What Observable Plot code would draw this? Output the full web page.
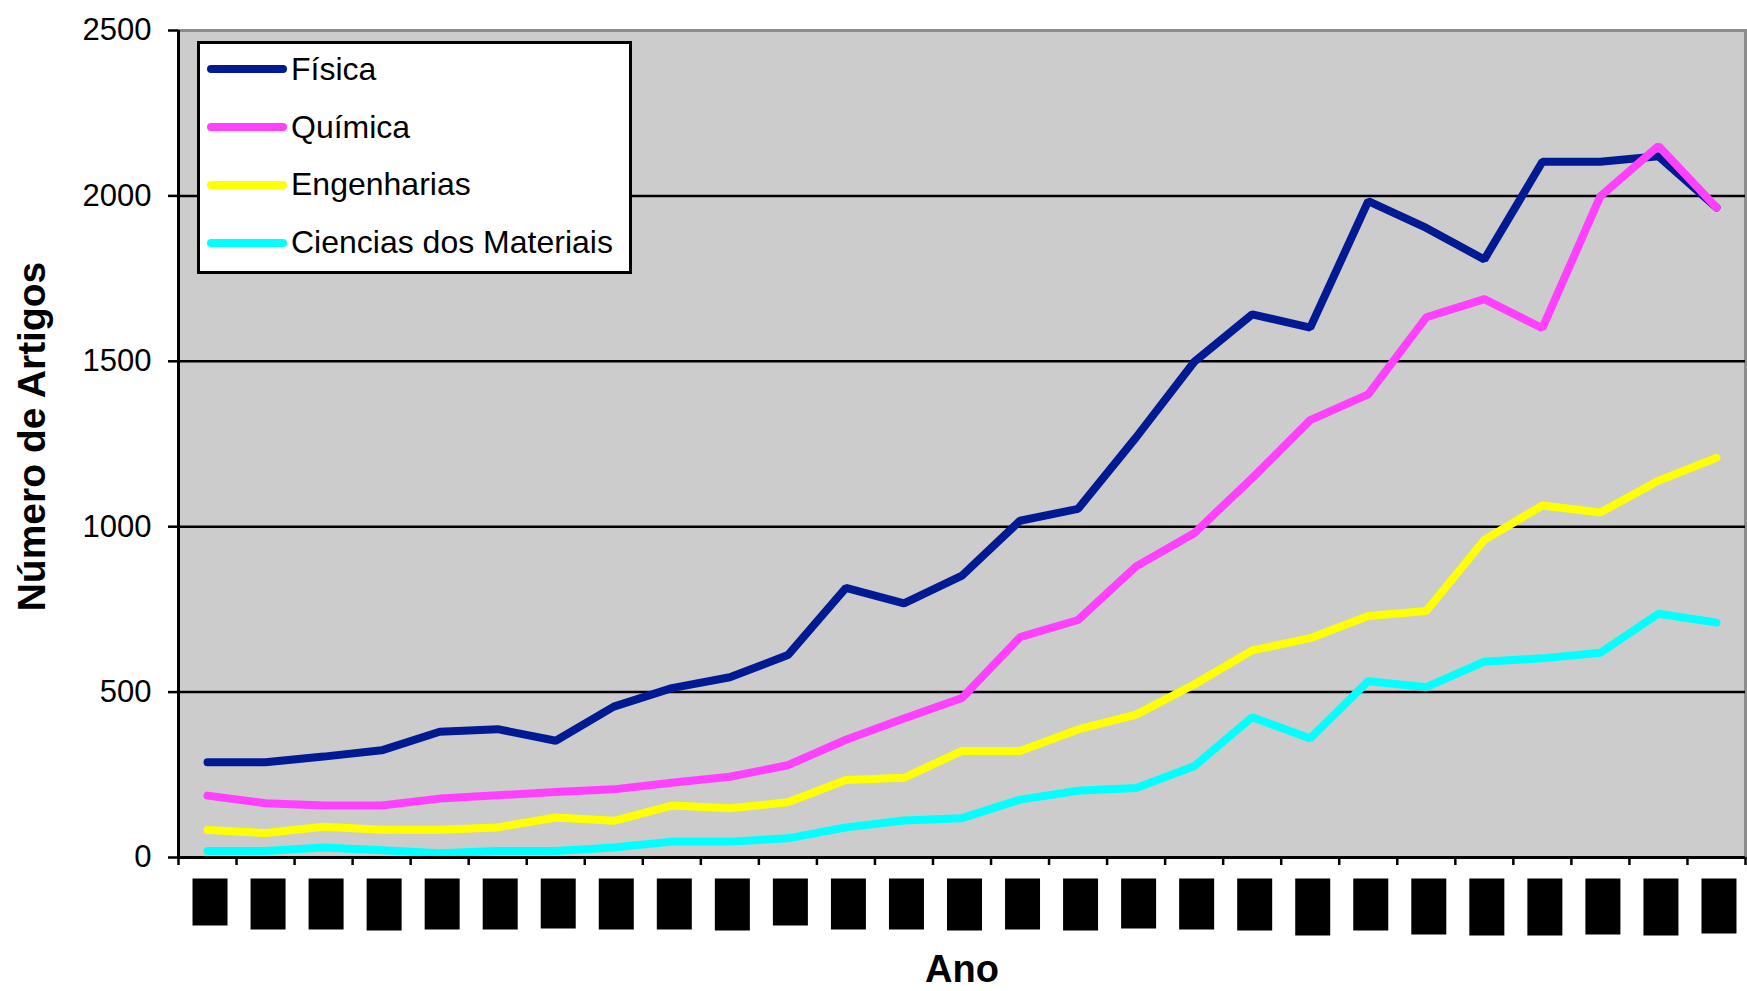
<!DOCTYPE html>
<html>
<head>
<meta charset="utf-8">
<script src="https://cdn.jsdelivr.net/npm/d3@7"></script>
<script src="https://cdn.jsdelivr.net/npm/@observablehq/plot@0.6"></script>
<style>
html, body { margin: 0; padding: 0; background: #ffffff; }
#wrap { position: relative; width: 1747px; height: 991px; font-family: "Liberation Sans", Arial, sans-serif; }
#wrap svg { position: absolute; left: 0; top: 0; }
#legend { position: absolute; left: 197px; top: 41px; width: 435px; height: 233px; border: 3px solid #000; background: #fff; box-sizing: border-box; }
.row { position: absolute; left: 0; height: 58px; display: flex; align-items: center; white-space: nowrap; }
.sw { width: 80px; height: 8px; border-radius: 4px; margin-left: 7px; margin-right: 4px; }
.lab { font-size: 32px; color: #000; }
</style>
</head>
<body>
<div id="wrap"></div>
<script>
// ---- data ----
const years = [1981, 1982, 1983, 1984, 1985, 1986, 1987, 1988, 1989, 1990, 1991, 1992, 1993, 1994,
               1995, 1996, 1997, 1998, 1999, 2000, 2001, 2002, 2003, 2004, 2005, 2006, 2007];
const seriesNames = ["Física", "Química", "Engenharias", "Ciencias dos Materiais"];
const seriesColors = ["#001a94", "#ff40ff", "#ffff00", "#00ffff"];
const fisica = [288, 288, 305, 324, 380, 388, 353, 456, 512, 545, 612, 815, 768, 852,
                1018, 1054, 1270, 1498, 1642, 1602, 1984, 1903, 1808, 2103, 2103, 2120, 1965];
const quimica = [187, 164, 157, 157, 178, 188, 198, 206, 226, 244, 279, 356, 420, 482,
                 666, 718, 880, 980, 1147, 1322, 1400, 1633, 1688, 1600, 1999, 2151, 1965];
const engenharias = [83, 74, 93, 84, 84, 91, 121, 111, 157, 149, 167, 234, 241, 322,
                     322, 387, 432, 523, 626, 663, 730, 745, 960, 1064, 1043, 1139, 1208];
const materiais = [20, 20, 30, 22, 13, 20, 20, 30, 48, 48, 58, 91, 112, 119,
                   175, 202, 210, 276, 424, 360, 533, 515, 592, 602, 619, 737, 710];
const yTicks = [0, 500, 1000, 1500, 2000, 2500];
const gridValues = [500, 1000, 1500, 2000];
const yLabel = "Número de Artigos";
const xLabel = "Ano";

// ---- build table ----
const seriesValues = [fisica, quimica, engenharias, materiais];
const data = seriesNames.flatMap((name, s) =>
  seriesValues[s].map((v, i) => ({year: years[i], value: v, serie: name})));
const boundaries = [years[0] - 0.5, ...years.map(y => y + 0.5)];

const plot = Plot.plot({
  width: 1747,
  height: 991,
  marginLeft: 178,
  marginRight: 2,
  marginTop: 30,
  marginBottom: 134,
  style: {fontFamily: '"Liberation Sans", Arial, sans-serif', fontSize: "31px", background: "transparent", color: "#000", overflow: "visible"},
  x: {type: "linear", domain: [years[0] - 0.5, years[years.length - 1] + 0.5], axis: null, label: null},
  y: {domain: [yTicks[0], yTicks[yTicks.length - 1]], axis: null, label: null},
  color: {domain: seriesNames, range: seriesColors},
  marks: [
    Plot.frame({fill: "#cccccc", stroke: "#8c8c8c", strokeWidth: 3}),
    Plot.ruleY(gridValues, {stroke: "#000", strokeWidth: 2.5}),
    Plot.line(data, {x: "year", y: "value", z: "serie", stroke: "serie", strokeWidth: 8,
                     strokeLinecap: "round", strokeLinejoin: "miter"}),
    Plot.ruleY([yTicks[0]], {stroke: "#000", strokeWidth: 3}),
    Plot.ruleX([years[0] - 0.5], {stroke: "#000", strokeWidth: 3}),
    Plot.axisY(yTicks, {label: null, tickSize: 10, tickPadding: 17, tickFormat: d => String(d), fontSize: 31, strokeWidth: 2.5}),
    Plot.axisX(boundaries, {label: null, tickSize: 8, tickFormat: () => "", strokeWidth: 2.5}),
    Plot.axisX(years, {label: null, tickSize: 0, tickPadding: 21, rotate: -90, textAnchor: "end", lineAnchor: "middle",
                       dx: 4, tickFormat: d => String(d), fontFamily: "Inter", fontSize: 22.5}),
    Plot.text([yLabel], {text: d => d, frameAnchor: "left", dx: -161, dy: -7.5, rotate: -90, lineAnchor: "top",
                         textAnchor: "middle", fontSize: 39, fontWeight: "bold"}),
    Plot.text([xLabel], {text: d => d, frameAnchor: "bottom", dy: 98, lineAnchor: "top",
                         textAnchor: "middle", fontSize: 38, fontWeight: "bold"})
  ]
});

const wrap = document.getElementById("wrap");
wrap.appendChild(plot);

// year labels are drawn as solid black blocks (as in the reference)
const svg = d3.select(plot);
const defs = svg.insert("defs", ":first-child");
const f = defs.append("filter").attr("id", "blk")
  .attr("filterUnits", "objectBoundingBox")
  .attr("x", 0).attr("y", -0.125).attr("width", 1).attr("height", 1.25);
f.append("feFlood").attr("flood-color", "#000").attr("flood-opacity", 1);
svg.selectAll("text")
  .filter(function () {
    const g = this.closest("g");
    const lbl = g ? (g.getAttribute("aria-label") || "") : "";
    return lbl.startsWith("x-axis") && /^\d{4}$/.test(this.textContent.trim());
  })
  .style("font-variant-numeric", "proportional-nums")
  .attr("filter", "url(#blk)");

// legend
const legend = document.createElement("div");
legend.id = "legend";
seriesNames.forEach((name, i) => {
  const row = document.createElement("div");
  row.className = "row";
  row.style.top = (-3.7 + i * 57.8) + "px";
  const sw = document.createElement("div");
  sw.className = "sw";
  sw.style.background = seriesColors[i];
  const lab = document.createElement("span");
  lab.className = "lab";
  lab.textContent = name;
  row.appendChild(sw);
  row.appendChild(lab);
  legend.appendChild(row);
});
wrap.appendChild(legend);
</script>
</body>
</html>
